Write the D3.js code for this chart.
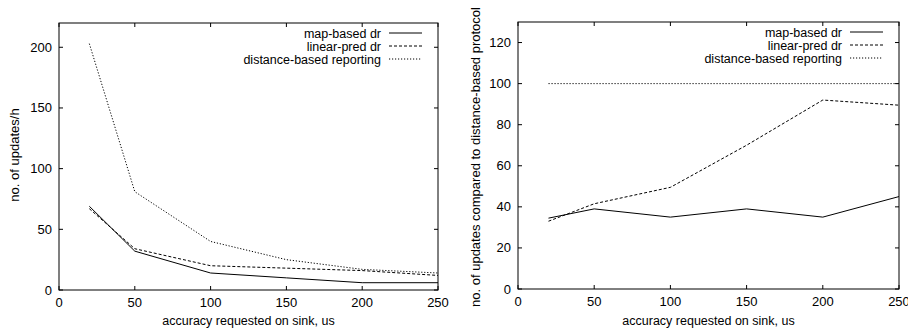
<!DOCTYPE html>
<html>
<head>
<meta charset="utf-8">
<script src="https://cdn.jsdelivr.net/npm/d3@7"></script>
<style>
  body { margin: 0; background: #fff; }
  text { font-family: "Liberation Sans", Arial, sans-serif; fill: #000; }
</style>
</head>
<body>
<svg width="908" height="331"></svg>
<script>
const svg = d3.select("svg");

// data
const accuracy = [20, 50, 100, 150, 200, 250];
const seriesNames = ["map-based dr", "linear-pred dr", "distance-based reporting"];
const updatesPerHour = {
  "map-based dr": [69, 32, 14, 10, 6, 6],
  "linear-pred dr": [67, 34, 20, 18, 16, 12],
  "distance-based reporting": [203, 81, 40, 25, 17, 14]
};
const relativeUpdates = {
  "map-based dr": [34.5, 39, 35, 39, 35, 45],
  "linear-pred dr": [33, 41.5, 49.5, 70, 92, 89.5],
  "distance-based reporting": [100, 100, 100, 100, 100, 100]
};
const xTicks = [0, 50, 100, 150, 200, 250];
const leftYTicks = [0, 50, 100, 150, 200];
const rightYTicks = [0, 20, 40, 60, 80, 100, 120];

const dashes = {
  "map-based dr": null,
  "linear-pred dr": "3,2",
  "distance-based reporting": "1.2,1.8"
};

function panel(opts) {
  const g = svg.append("g");
  const x = d3.scaleLinear().domain([0, 250]).range([opts.left, opts.right]);
  const y = d3.scaleLinear().domain([0, opts.yMax]).range([opts.bottom, opts.top]);

  // inner ticks on all four sides (gnuplot style)
  const tick = 4;
  xTicks.forEach(t => {
    g.append("line").attr("x1", x(t)).attr("x2", x(t))
      .attr("y1", opts.bottom).attr("y2", opts.bottom - tick).attr("stroke", "#000");
    g.append("line").attr("x1", x(t)).attr("x2", x(t))
      .attr("y1", opts.top).attr("y2", opts.top + tick).attr("stroke", "#000");
    g.append("text").attr("x", x(t)).attr("y", opts.bottom + 17)
      .attr("text-anchor", "middle").attr("font-size", 13).text(t);
  });
  opts.yTicks.forEach(t => {
    g.append("line").attr("x1", opts.left).attr("x2", opts.left + tick)
      .attr("y1", y(t)).attr("y2", y(t)).attr("stroke", "#000");
    g.append("line").attr("x1", opts.right).attr("x2", opts.right - tick)
      .attr("y1", y(t)).attr("y2", y(t)).attr("stroke", "#000");
    g.append("text").attr("x", opts.left - 7).attr("y", y(t) + 4.5)
      .attr("text-anchor", "end").attr("font-size", 13).text(t);
  });

  const line = d3.line().x((d, i) => x(accuracy[i])).y(d => y(d));
  seriesNames.forEach(name => {
    g.append("path").datum(opts.data[name])
      .attr("d", line).attr("fill", "none")
      .attr("stroke", "#000").attr("stroke-width", 1)
      .attr("stroke-dasharray", dashes[name]);
  });

  g.append("rect").attr("x", opts.left).attr("y", opts.top)
    .attr("width", opts.right - opts.left).attr("height", opts.bottom - opts.top)
    .attr("fill", "none").attr("stroke", "#000").attr("stroke-width", 1);

  // legend
  seriesNames.forEach((name, i) => {
    const ly = opts.top + 10 + i * 13;
    g.append("text").attr("x", opts.right - 57).attr("y", ly + 4.5)
      .attr("text-anchor", "end").attr("font-size", 12.5).text(name);
    g.append("line").attr("x1", opts.right - 49).attr("x2", opts.right - 16)
      .attr("y1", ly).attr("y2", ly).attr("stroke", "#000")
      .attr("stroke-dasharray", dashes[name]);
  });

  g.append("text").attr("x", (opts.left + opts.right) / 2).attr("y", 325)
    .attr("text-anchor", "middle").attr("font-size", 12.5)
    .text("accuracy requested on sink, us");
  g.append("text")
    .attr("transform", `translate(${opts.ylabelX},${opts.ylabelY}) rotate(-90)`)
    .attr("text-anchor", "middle").attr("font-size", 13).text(opts.ylabel);
}

panel({
  left: 59, right: 438, top: 23, bottom: 290, yMax: 220,
  yTicks: leftYTicks, data: updatesPerHour,
  ylabel: "no. of updates/h", ylabelX: 19, ylabelY: 155
});
panel({
  left: 518, right: 899, top: 22, bottom: 289, yMax: 130,
  yTicks: rightYTicks, data: relativeUpdates,
  ylabel: "no. of updates compared to distance-based protocol", ylabelX: 480, ylabelY: 157
});
</script>
</body>
</html>
